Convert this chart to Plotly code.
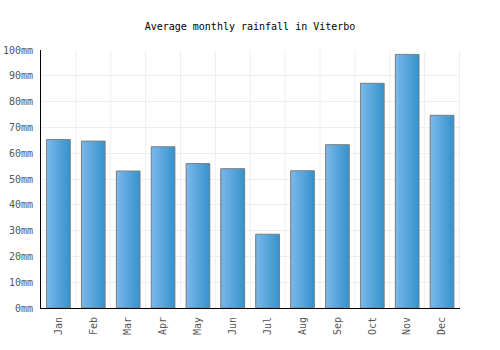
import plotly.graph_objects as go

months = ["Jan", "Feb", "Mar", "Apr", "May", "Jun", "Jul", "Aug", "Sep", "Oct", "Nov", "Dec"]
rainfall = [65.3, 64.7, 53.1, 62.5, 56.0, 54.0, 28.6, 53.2, 63.3, 87.1, 98.3, 74.7]

fig = go.Figure()

bar_w = 0.68
n_strips = 16
c0 = (122, 184, 234)
c1 = (56, 148, 206)
for i in range(n_strips):
    t = i / (n_strips - 1)
    col = tuple(round(c0[k] + (c1[k] - c0[k]) * t) for k in range(3))
    start = -bar_w / 2 + i * bar_w / n_strips
    w = min(bar_w / n_strips + 0.01, bar_w / 2 - start)
    fig.add_trace(go.Bar(
        x=months, y=rainfall,
        width=w, offset=start,
        marker=dict(color="rgb(%d,%d,%d)" % col, line=dict(width=0)),
        hoverinfo="skip", showlegend=False,
    ))
fig.add_trace(go.Bar(
    x=months, y=rainfall, width=bar_w, offset=-bar_w / 2,
    marker=dict(color="rgba(0,0,0,0)", line=dict(color="#808080", width=1)),
    showlegend=False,
))

fig.update_layout(
    width=500, height=350,
    barmode="overlay",
    margin=dict(l=41, r=40, t=50, b=42),
    paper_bgcolor="white", plot_bgcolor="white",
    font=dict(family="DejaVu Sans Mono", size=10, color="#555555"),
    title=dict(text="Average monthly rainfall in Viterbo", x=0.5, xanchor="center",
               y=0.925, yanchor="middle", font=dict(size=10, color="#000000")),
)
fig.update_xaxes(
    showline=True, linecolor="#000000", linewidth=1, automargin=False,
    showgrid=False, tickangle=-90, ticks="", ticklabelstandoff=4,
    tickfont=dict(size=10, color="#555555"),
)
fig.update_yaxes(
    range=[0, 100], dtick=10, ticksuffix="mm", automargin=False,
    showline=True, linecolor="#000000", linewidth=1,
    gridcolor="#eeeeee", zeroline=False, ticks="", ticklabelstandoff=5,
    tickfont=dict(size=10, color="#555555"),
)
for i in range(1, 13):
    fig.add_vline(x=i - 0.5, line=dict(color="#eeeeee", width=1), layer="below")

fig.write_html("out.html")
